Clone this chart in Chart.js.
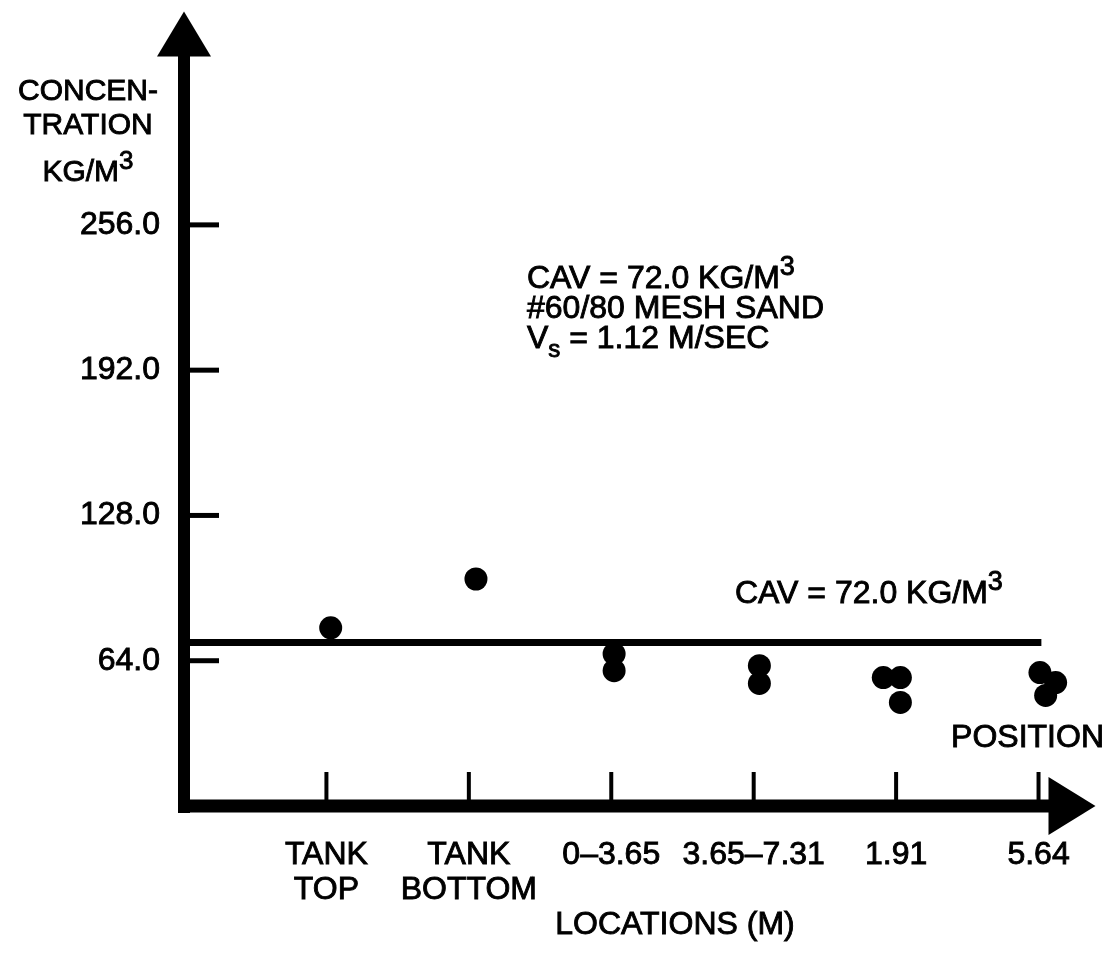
<!DOCTYPE html>
<html>
<head>
<meta charset="utf-8">
<title>Concentration by location</title>
<script src="https://cdn.jsdelivr.net/npm/chart.js@4.4.1/dist/chart.umd.min.js"></script>
<style>
  html, body { margin: 0; padding: 0; background: #fff; }
  #wrap { width: 1107px; height: 956px; }
</style>
</head>
<body>
<div id="wrap"><canvas id="concChart" width="1107" height="956"></canvas></div>
<script>
// x axis: sampling locations, placed at positions 1..6
const locationLabels = [['TANK', 'TOP'], ['TANK', 'BOTTOM'], '0–3.65', '3.65–7.31', '1.91', '5.64'];
const locationTicks = [1, 2, 3, 4, 5, 6];

// measured concentrations (kg/m3); x = location position, small offsets where dots sit side by side
const sampleX = [1.03, 2.05, 3.02, 3.02, 4.04, 4.04, 4.91, 5.03, 5.03, 6.01, 6.12, 6.05];
const sampleY = [78.5, 100.0, 67.0, 59.6, 61.8, 54.0, 56.6, 56.6, 45.6, 58.8, 54.4, 48.7];

// average concentration line
const cavValue = 72.0;
const cavSpan = [0, 6.02];

// y axis ticks
const yTicks = [64, 128, 192, 256];

const FONT = '"Liberation Sans", Arial, Helvetica, sans-serif';
const INK = '#000';
const TEXT_STROKE = 0.9; // scanned lettering is a little heavier than regular weight

const samplePoints = sampleX.map((x, i) => ({ x: x, y: sampleY[i] }));
const cavLine = cavSpan.map(x => ({ x: x, y: cavValue }));

// text with a raised (or lowered) small part, e.g. M^3 or V_s
function drawParts(ctx, parts, x, y, align) {
    let total = 0;
    parts.forEach(p => {
        ctx.font = p.size + 'px ' + FONT;
        total += ctx.measureText(p.text).width;
    });
    let cx = align === 'center' ? x - total / 2 : (align === 'right' ? x - total : x);
    ctx.textAlign = 'left';
    ctx.textBaseline = 'alphabetic';
    ctx.lineWidth = TEXT_STROKE;
    ctx.strokeStyle = INK;
    parts.forEach(p => {
        ctx.font = p.size + 'px ' + FONT;
        ctx.fillText(p.text, cx, y + (p.shift || 0));
        ctx.strokeText(p.text, cx, y + (p.shift || 0));
        cx += ctx.measureText(p.text).width;
    });
}

function kgm3(prefix, size) {
    return [{ text: prefix + 'KG/M', size: size }, { text: '3', size: Math.round(size * 0.85), shift: -Math.round(size * 0.4) }];
}

const axesDecor = {
    id: 'axesDecor',
    beforeDatasetsDraw(chart) {
        const ctx = chart.ctx;
        const a = chart.chartArea;
        const xs = chart.scales.x;
        const ys = chart.scales.y;
        const x0 = a.left, y0 = a.bottom;
        ctx.save();
        ctx.fillStyle = INK;
        ctx.strokeStyle = INK;

        // y axis line + arrow
        ctx.lineWidth = 12;
        ctx.beginPath();
        ctx.moveTo(x0, a.top + 44);
        ctx.lineTo(x0, y0 + 7);
        ctx.stroke();
        ctx.beginPath();
        ctx.moveTo(x0, a.top);
        ctx.lineTo(x0 - 27, a.top + 45);
        ctx.lineTo(x0 + 27, a.top + 45);
        ctx.closePath();
        ctx.fill();

        // x axis line + arrow
        ctx.lineWidth = 13;
        ctx.beginPath();
        ctx.moveTo(x0 - 6, y0);
        ctx.lineTo(a.right - 46, y0);
        ctx.stroke();
        ctx.beginPath();
        ctx.moveTo(a.right, y0);
        ctx.lineTo(a.right - 47, y0 - 29);
        ctx.lineTo(a.right - 47, y0 + 29);
        ctx.closePath();
        ctx.fill();

        // inward tick marks
        ctx.lineWidth = 5;
        yTicks.forEach(v => {
            const py = ys.getPixelForValue(v);
            ctx.beginPath();
            ctx.moveTo(x0 + 5, py);
            ctx.lineTo(x0 + 35, py);
            ctx.stroke();
        });
        ctx.lineWidth = 4;
        locationTicks.forEach(v => {
            const px = xs.getPixelForValue(v);
            ctx.beginPath();
            ctx.moveTo(px, y0 - 5);
            ctx.lineTo(px, y0 - 34);
            ctx.stroke();
        });
        ctx.restore();
    },
    afterDraw(chart) {
        const ctx = chart.ctx;
        ctx.save();
        ctx.fillStyle = INK;

        // y axis title
        drawParts(ctx, [{ text: 'CONCEN-', size: 30 }], 88, 100, 'center');
        drawParts(ctx, [{ text: 'TRATION', size: 30 }], 88, 134, 'center');
        drawParts(ctx, kgm3('', 30), 88, 181, 'center');

        // legend block
        drawParts(ctx, kgm3('CAV = 72.0 ', 32), 527, 288, 'left');
        drawParts(ctx, [{ text: '#60/80 MESH SAND', size: 32 }], 527, 318, 'left');
        drawParts(ctx, [{ text: 'V', size: 32 }, { text: 's', size: 24, shift: 9 }, { text: ' = 1.12 M/SEC', size: 32 }], 527, 348, 'left');

        // label on the average line
        drawParts(ctx, kgm3('CAV = 72.0 ', 32), 735, 603, 'left');

        // axis words
        drawParts(ctx, [{ text: 'POSITION', size: 32 }], 1104, 747, 'right');
        drawParts(ctx, [{ text: 'LOCATIONS (M)', size: 32 }], 675, 934, 'center');
        ctx.restore();
    }
};

function noLabelPadding(axis) {
    axis.paddingTop = 0;
    axis.paddingBottom = 0;
    axis.paddingLeft = 0;
    axis.paddingRight = 0;
}

const ctx = document.getElementById('concChart').getContext('2d');
new Chart(ctx, {
    type: 'scatter',
    data: {
        datasets: [{
            label: 'Samples',
            data: samplePoints,
            pointRadius: 11.5,
            pointBackgroundColor: INK,
            pointBorderWidth: 0
        }, {
            type: 'line',
            label: 'CAV',
            data: cavLine,
            borderColor: INK,
            borderWidth: 7,
            pointRadius: 0,
            fill: false
        }]
    },
    options: {
        responsive: false,
        animation: false,
        events: [],
        layout: { padding: { left: 0, top: 8, right: 7, bottom: 0 } },
        plugins: { legend: { display: false }, tooltip: { enabled: false } },
        scales: {
            x: {
                type: 'linear',
                min: 0,
                max: 6.4,
                afterBuildTicks: axis => { axis.ticks = locationTicks.map(v => ({ value: v })); },
                afterFit: axis => { axis.height = 150; noLabelPadding(axis); },
                grid: { display: false, drawTicks: false },
                border: { display: false },
                ticks: {
                    autoSkip: false,
                    maxRotation: 0,
                    padding: 32,
                    color: INK,
                    textStrokeColor: INK,
                    textStrokeWidth: TEXT_STROKE,
                    font: { family: FONT, size: 32, lineHeight: 1.08 },
                    callback: v => {
                        const i = locationTicks.indexOf(v);
                        return i >= 0 ? locationLabels[i] : '';
                    }
                }
            },
            y: {
                type: 'linear',
                min: 0,
                max: 350,
                afterBuildTicks: axis => { axis.ticks = yTicks.map(v => ({ value: v })); },
                afterFit: axis => { axis.width = 184; noLabelPadding(axis); },
                grid: { display: false, drawTicks: false },
                border: { display: false },
                ticks: {
                    padding: 24,
                    color: INK,
                    textStrokeColor: INK,
                    textStrokeWidth: TEXT_STROKE,
                    font: { family: FONT, size: 32 },
                    callback: v => v.toFixed(1)
                }
            }
        }
    },
    plugins: [axesDecor]
});
</script>
</body>
</html>
